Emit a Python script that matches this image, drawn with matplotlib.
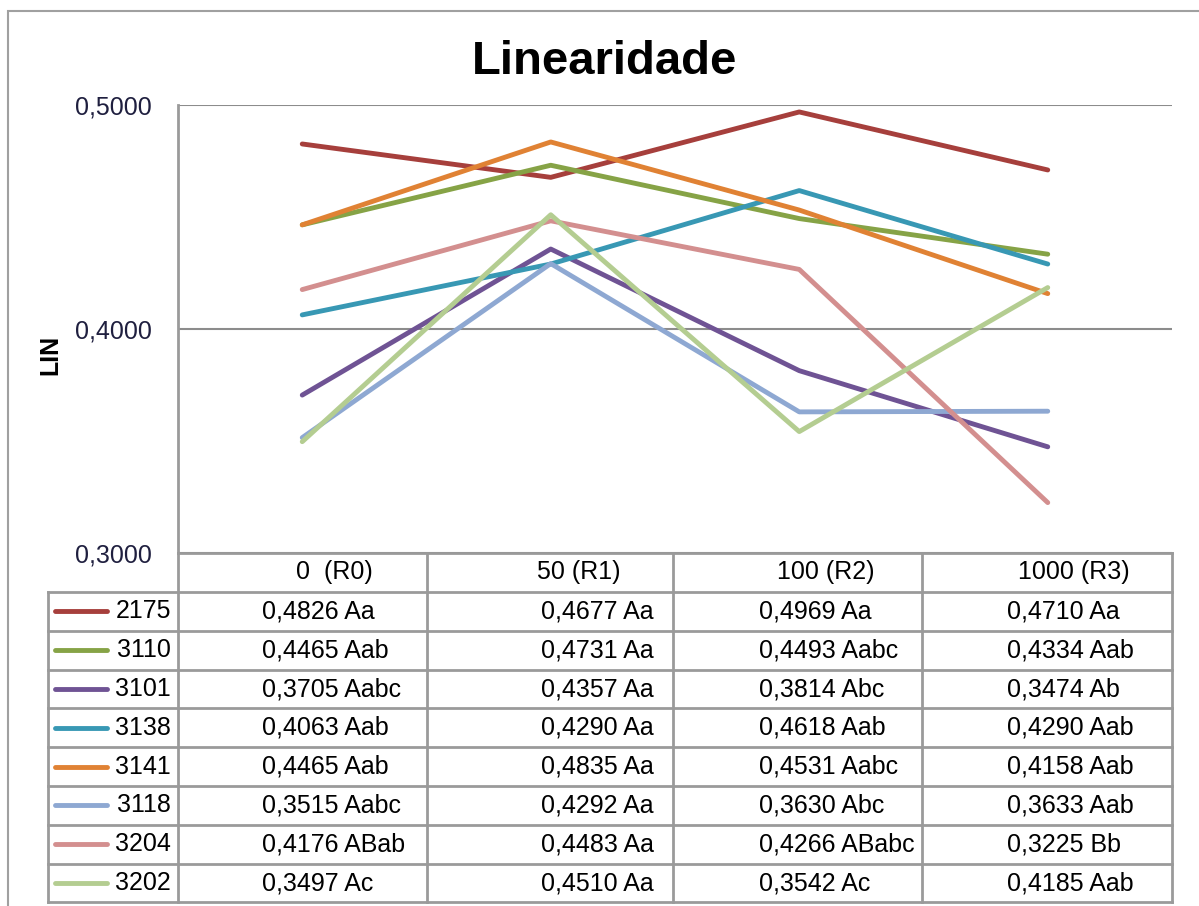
import matplotlib.pyplot as plt
from matplotlib.lines import Line2D
from matplotlib.patches import Rectangle

plt.rcParams['font.family'] = ['Liberation Sans', 'DejaVu Sans']

# Data
categories = ['0  (R0)', '50 (R1)', '100 (R2)', '1000 (R3)']
series_names = ['2175', '3110', '3101', '3138', '3141', '3118', '3204', '3202']

lin_2175 = [0.4826, 0.4677, 0.4969, 0.4710]
lin_3110 = [0.4465, 0.4731, 0.4493, 0.4334]
lin_3101 = [0.3705, 0.4357, 0.3814, 0.3474]
lin_3138 = [0.4063, 0.4290, 0.4618, 0.4290]
lin_3141 = [0.4465, 0.4835, 0.4531, 0.4158]
lin_3118 = [0.3515, 0.4292, 0.3630, 0.3633]
lin_3204 = [0.4176, 0.4483, 0.4266, 0.3225]
lin_3202 = [0.3497, 0.4510, 0.3542, 0.4185]

grp_2175 = ['Aa', 'Aa', 'Aa', 'Aa']
grp_3110 = ['Aab', 'Aa', 'Aabc', 'Aab']
grp_3101 = ['Aabc', 'Aa', 'Abc', 'Ab']
grp_3138 = ['Aab', 'Aa', 'Aab', 'Aab']
grp_3141 = ['Aab', 'Aa', 'Aabc', 'Aab']
grp_3118 = ['Aabc', 'Aa', 'Abc', 'Aab']
grp_3204 = ['ABab', 'Aa', 'ABabc', 'Bb']
grp_3202 = ['Ac', 'Aa', 'Ac', 'Aab']

values = [lin_2175, lin_3110, lin_3101, lin_3138, lin_3141, lin_3118, lin_3204, lin_3202]
groups = [grp_2175, grp_3110, grp_3101, grp_3138, grp_3141, grp_3118, grp_3204, grp_3202]
colors = ['#A63F3C', '#86A346', '#6F5394', '#3898B4', '#E08234', '#8EA8D2', '#D38F8F', '#B4CD91']

# Layout in pixels
W, H = 1199, 906
px_left, px_right, px_top, px_bottom = 178, 1172, 105, 553
col_edges = [178, 427, 673, 922, 1172]
text_offset = [84, 114, 86, 85]
head_offset = [118, 110, 104, 96]
row_top = 592
row_h = 38.8
leg_left = 48
grid_col = '#8C8C8C'
tab_col = '#9A9A9A'


def fx(x):
    return x / W


def fy(y):
    return 1 - y / H


fig = plt.figure(figsize=(W / 100, H / 100), dpi=100)

# chart frame
fig.add_artist(Rectangle((fx(8), fy(1000)), fx(1300), fy(11) - fy(1000),
                         transform=fig.transFigure, fill=False,
                         edgecolor='#A0A0A0', linewidth=1.5))

ax = fig.add_axes([fx(px_left), fy(px_bottom), fx(px_right - px_left),
                   fy(px_top) - fy(px_bottom)])
x = range(len(categories))
for v, c in zip(values, colors):
    ax.plot(x, v, color=c, linewidth=3.5, solid_capstyle='round')

ax.set_xlim(-0.5, len(categories) - 0.5)
ax.set_ylim(0.3, 0.5)
ax.set_yticks([0.3, 0.4, 0.5])
ax.set_yticklabels(['0,3000', '0,4000', '0,5000'])
ax.tick_params(axis='y', length=0, pad=19, labelsize=18, labelcolor='#1F1F3F')
ax.set_xticks([])
ax.grid(axis='y', color=grid_col, linewidth=1.5)
ax.set_axisbelow(True)
for s in ['top', 'right', 'bottom']:
    ax.spines[s].set_visible(False)
ax.spines['left'].set_color(tab_col)
ax.spines['left'].set_linewidth(2)

fig.text(fx(605), fy(62), 'Linearidade', fontsize=34, fontweight='bold',
         ha='center', va='center')
fig.text(fx(50), fy(355), 'LIN', fontsize=18, fontweight='bold', rotation=90,
         ha='center', va='center')

# data table
n = len(series_names)
table_bottom = row_top + n * row_h


def hline(y, x0, x1):
    fig.add_artist(Line2D([fx(x0), fx(x1)], [fy(y), fy(y)], color=tab_col,
                          linewidth=2, transform=fig.transFigure))


def vline(xp, y0, y1):
    fig.add_artist(Line2D([fx(xp), fx(xp)], [fy(y0), fy(y1)], color=tab_col,
                          linewidth=2, transform=fig.transFigure))


hline(px_bottom, col_edges[0], col_edges[-1])
for i in range(n + 1):
    hline(row_top + i * row_h, leg_left, col_edges[-1])
vline(leg_left, row_top, table_bottom)
vline(col_edges[0], px_bottom, table_bottom)
for xe in col_edges[1:]:
    vline(xe, px_bottom, table_bottom)

for j, cat in enumerate(categories):
    fig.text(fx(col_edges[j] + head_offset[j]), fy((px_bottom + row_top) / 2), cat,
             fontsize=18, ha='left', va='center')

for i, name in enumerate(series_names):
    yc = row_top + (i + 0.5) * row_h
    fig.add_artist(Line2D([fx(55), fx(107)], [fy(yc), fy(yc)], color=colors[i],
                          linewidth=3.5, solid_capstyle='round',
                          transform=fig.transFigure))
    fig.text(fx(171), fy(yc), name, fontsize=18, ha='right', va='center')
    for j in range(len(categories)):
        label = f"{values[i][j]:.4f}".replace('.', ',') + ' ' + groups[i][j]
        fig.text(fx(col_edges[j] + text_offset[j]), fy(yc), label,
                 fontsize=18, ha='left', va='center')

fig.savefig('out.png', dpi=100)
